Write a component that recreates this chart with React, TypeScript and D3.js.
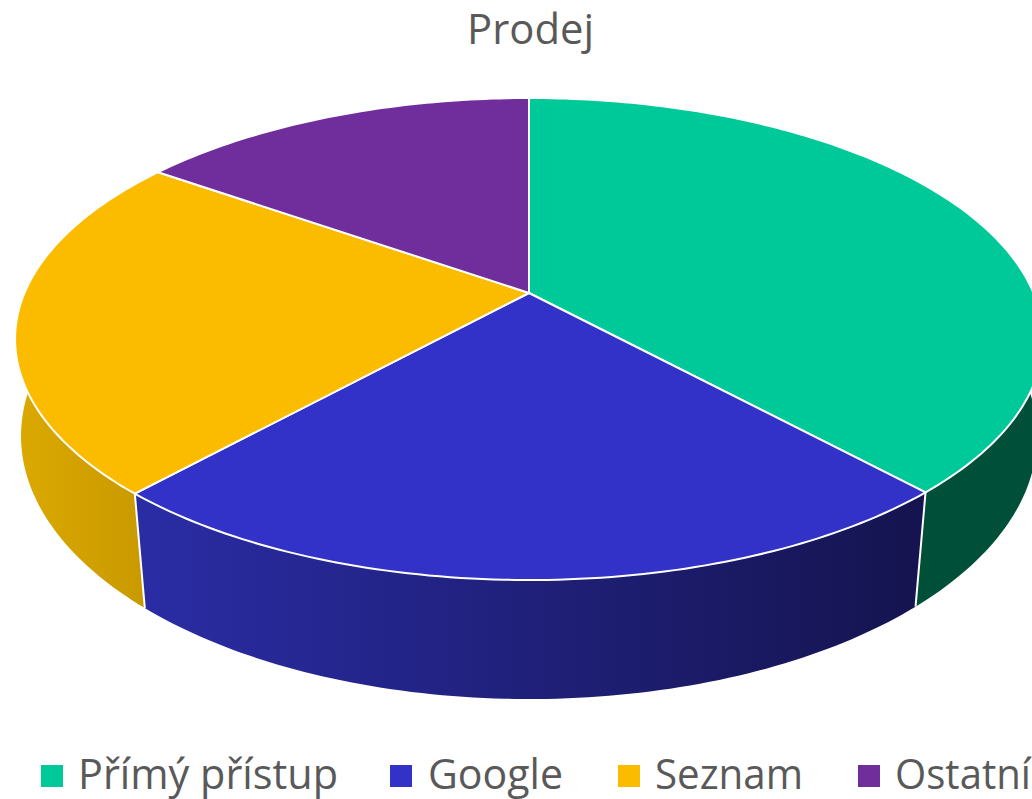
import React from "react";
import * as d3 from "d3";

const categories = ["Přímý přístup", "Google", "Seznam", "Ostatní"];
const values = [38.2, 23.5, 23.1, 15.2];
const topColors = ["#00c999", "#3232c8", "#fbbc00", "#6f2e9b"];
const sideFrom = ["#004f38", "#2a2ca4", "#dca900", "#4a1f68"];
const sideTo = ["#004f38", "#151450", "#c99a00", "#4a1f68"];
const legendSwatchX = [41, 390, 618, 858];
const legendTextX = [78, 428, 655, 895];
const legendTextW = [260, 135, 148, 136];

const W = 1032, H = 799;
const cx = 529;
const topPlane = { y0: 293, a: 176.3, c: 504.5, k: -0.1909 };
const lowPlane = { y0: 391.3, a: 188.9, c: 500.6, k: -0.17 };

const project = (p: { y0: number; a: number; c: number; k: number }) => (t: number): [number, number] => {
  const x = Math.sin(t), y = -Math.cos(t), d = 1 + p.k * y;
  return [cx + (p.c * x) / d, (p.y0 + p.a * y) / d];
};
const topPoint = project(topPlane);
const lowPoint = project(lowPlane);
const deg = Math.PI / 180;
const samples = (s: number, e: number) => {
  const n = Math.max(2, Math.ceil((e - s) / deg));
  return d3.range(n + 1).map((i) => s + ((e - s) * i) / n);
};

const arcs = d3.pie<number>().sort(null).value((d) => d)(values);
const line = d3.line();

export default function App() {
  return (
    <svg width={W} height={H} style={{ position: "absolute", left: 0, top: 0, display: "block", background: "#fff" }}>
      <defs>
        {arcs.map((_, i) => (
          <linearGradient key={i} id={`side${i}`} gradientUnits="userSpaceOnUse"
            x1={i === 2 ? 15 : 143} x2={i === 2 ? 143 : 915} y1={0} y2={0}>
            <stop offset="0" stopColor={sideFrom[i]} />
            <stop offset="1" stopColor={sideTo[i]} />
          </linearGradient>
        ))}
      </defs>
      <text x={530.5} y={44} textAnchor="middle" fontFamily="Open Sans" fontSize={42} fill="#595959"
        textLength={127} lengthAdjust="spacingAndGlyphs">Prodej</text>

      {arcs.map((d, i) => {
        const s = Math.max(d.startAngle, 75 * deg);
        const e = Math.min(d.endAngle, 285 * deg);
        if (e <= s) return null;
        const ts = samples(s, e);
        const pts = [...ts.map(topPoint), ...ts.slice().reverse().map(lowPoint)];
        return <path key={i} d={line(pts) + "Z"} fill={`url(#side${i})`} />;
      })}
      {[arcs[0].endAngle, arcs[1].endAngle].map((t, i) => (
        <path key={i} d={line([topPoint(t), lowPoint(t)]) || ""} stroke="#fff" strokeWidth={2} fill="none" />
      ))}

      {arcs.map((d, i) => {
        const pts: [number, number][] = [[cx, topPlane.y0], ...samples(d.startAngle, d.endAngle).map(topPoint)];
        return <path key={i} d={line(pts) + "Z"} fill={topColors[i]} stroke="#fff" strokeWidth={2} strokeLinejoin="round" />;
      })}

      {categories.map((name, i) => (
        <g key={name}>
          <rect x={legendSwatchX[i]} y={765} width={22} height={22} fill={topColors[i]} />
          <text x={legendTextX[i]} y={789} fontFamily="Open Sans" fontSize={42} fill="#595959"
            textLength={legendTextW[i]} lengthAdjust="spacingAndGlyphs">{name}</text>
        </g>
      ))}
    </svg>
  );
}
